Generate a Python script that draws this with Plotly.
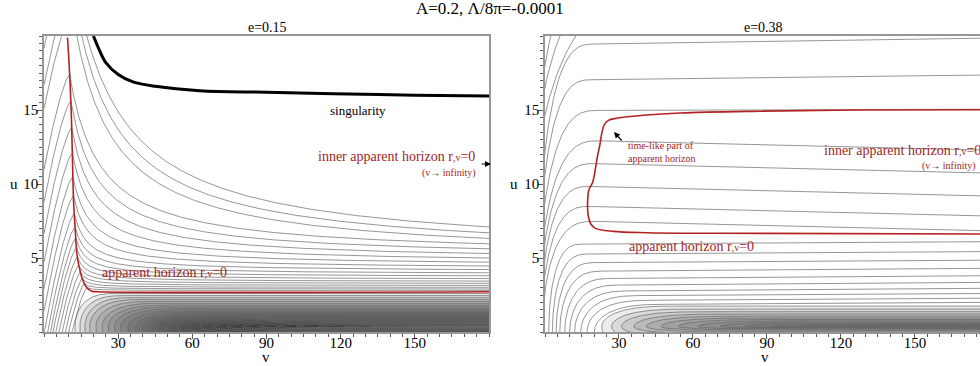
import numpy as np
import plotly.graph_objects as go

# ------------------------------------------------------------------ data
V_MAX_L = 180.0          # right end of the left panel (v)
V_MAX_R = 176.4          # visible right end of the right panel (v)
U_MAX = 20.0

# ---- left panel, e=0.15
L_hor_v = [9.5, 10.0, 10.5, 11.0, 11.4, 11.7, 12.0, 12.6, 13.3, 14.2, 15.3, 16.5, 17.6, 19.3, 22.0, 180.0]
L_hor_u = [19.9, 18.6, 17.0, 15.0, 12.5, 10.3, 8.7, 7.0, 5.3, 4.4, 3.7, 3.2, 2.95, 2.76, 2.72, 2.72]
L_sing_v = [20, 22, 25, 30, 36, 45, 63, 90, 117, 150, 180]
L_sing_u = [20, 19.2, 18.2, 17.4, 16.9, 16.6, 16.3, 16.2, 16.1, 16.0, 15.95]
# contours peaking on the apparent horizon: peak u and level at right edge
L_peak_u = [17.4, 15.6, 13.8, 12.1, 10.5, 9.2, 8.0, 7.1, 6.35, 5.7, 5.07, 4.53, 4.05, 3.62, 3.27, 3.0]
L_peak_edge_u = [5.96, 5.62, 5.3, 5.0, 4.72, 4.46, 4.22, 4.0, 3.8, 3.61, 3.44, 3.29, 3.15, 3.02, 2.91, 2.81]
# contours leaving the top edge right of the horizon
L_outer_top_v = [17.3, 15.3, 13.3]
L_outer_edge_u = [7.1, 6.7, 6.32]
L_outer_width = [24.0, 20.0, 17.0]
# contours leaving the top edge left of the horizon
L_leg_top_v = [1.0, 4.4, 7.2]
# contours below the horizon
L_low_top_u = [2.60, 2.46, 2.32, 2.19, 2.06, 1.94, 1.82, 1.71, 1.60, 1.50, 1.40, 1.31, 1.22, 1.14,
               1.06, 0.99, 0.92, 0.86, 0.80, 0.75, 0.70, 0.65, 0.61, 0.57, 0.53, 0.49, 0.45, 0.41,
               0.39, 0.375]
L_low_apex_v = [12.5, 14.5, 16.5, 18.5, 21, 23.5, 26, 28.5, 31, 34, 37, 40, 43, 46,
                50, 54, 58, 63, 68, 74, 80, 87, 94, 102, 111, 121, 132, 145, 158, 170]
L_low_bot_u = [-3] * 14 + [-1.2, -0.6, -0.3, -0.12, 0.0, 0.08, 0.14, 0.19, 0.23, 0.26, 0.28, 0.30,
                           0.32, 0.33, 0.34, 0.345]
L_low_width = [17, 18.5, 20, 21.5, 23, 24.5, 26, 27.5, 29, 30.5, 32, 33.5, 35, 36.5,
               38, 39.5, 41, 42.5, 44, 45.5, 47, 48.5, 50, 51.5, 53, 54.5, 56, 57.5, 59, 60]

# ---- right panel, e=0.38
R_hor_v = [176.4, 126, 87.6, 54.9, 41, 29, 25.7, 24.0, 23.0, 22.2, 21.2, 20.4, 19.3, 17.8,
           17.3, 17.5, 18.6, 20.5, 27.7, 41.2, 68.2, 176.4]
R_hor_u = [15.02, 15.0, 14.92, 14.8, 14.66, 14.44, 14.3, 14.0, 13.4, 12.6, 11.8, 11.0, 10.1, 9.6,
           8.9, 7.9, 7.3, 7.0, 6.8, 6.71, 6.67, 6.62]
R_rise_u = [27.5, 24.3, 22.55, 19.85, 17.36, 15.05, 12.3, 10.75, 9.2, 7.85, 6.85,
            6.1, 5.43, 4.85, 4.3, 3.8, 3.35, 2.95, 2.6, 2.28, 2.0]
R_rise_b = [-8, -8.8, -8.75, -3.7, -3.5, -3.3, -3, -2.5, -2, -1.5, -1,
            1.5, 3, 4.5, 6, 8, 10, 12, 14.5, 17, 20]
R_rise_w = [45, 45, 50, 23.7, 22.5, 25, 26, 23.5, 21, 20.5, 22,
            14, 15, 16.5, 18, 19.5, 21, 23, 25, 27, 29]
R_rise_t = [0.002, 0.002, 0.002, 0.0025, 0.002, 0.0005, -0.004, -0.004, -0.004, -0.004, -0.004,
            0.001, 0.001, 0.001, 0.0012, 0.0012, 0.0012, 0.0012, 0.001, 0.001, 0.001]
R_low_top_u = [1.75, 1.55, 1.37, 1.21, 1.07, 0.95, 0.85, 0.76, 0.68, 0.61, 0.55, 0.50, 0.45, 0.41,
               0.39, 0.375]
R_low_apex_v = [23, 27, 31, 36, 41, 47, 54, 62, 71, 81, 92, 104, 118, 134, 150, 163]
R_low_bot_u = [-1.5, -0.7, -0.35, -0.12, 0.0, 0.08, 0.14, 0.19, 0.23, 0.26, 0.28, 0.30, 0.32, 0.33,
               0.34, 0.345]
R_low_width = [31, 33, 35, 37, 39, 41, 43, 45, 47, 49, 51, 53, 55, 57, 59, 60]

TITLE = "A=0.2, \u039b/8\u03c0=-0.0001"
SUB_L = "e=0.15"
SUB_R = "e=0.38"

# ------------------------------------------------------------------ shapes
KL = 0.243
UC = 0.36
GRAY = "rgb(105,105,105)"
RED = "rgb(178,34,34)"
TXT_RED = "rgb(160,30,35)"
SHADE = "rgba(40,40,40,0.085)"
FONT = "Liberation Serif"


def bend(x):
    x = np.clip(x, 0, 1)
    return np.sqrt(1 - (1 - x) ** 3)


def collect(paths):
    xs, ys = [], []
    for v, u in paths:
        xs += list(v) + [None]
        ys += list(u) + [None]
    return xs, ys


def c_line(a, top, bot, w, vmax):
    x = np.linspace(0, 1, 80) ** 2
    v = np.r_[a + w * x, np.linspace(a + w, max(vmax, a + w + 1), 30)[1:]]
    s = bend((v - a) / w)
    up = UC + (top - UC) * s
    lo = UC - (UC - bot) * s
    return np.r_[v[::-1], v[1:]], np.r_[lo[::-1], up[1:]]


def left_paths():
    paths = []
    hv = np.array(L_hor_v[:14])[::-1]
    hu = np.array(L_hor_u[:14])[::-1]
    for P, E in zip(L_peak_u, L_peak_edge_u):
        vp = float(np.interp(P, hu, hv))
        vl = np.linspace(0, vp, 60)
        ul = P - KL * (vp - vl) ** 1.4
        d = 0.9 * (P - E) + 2.0
        q = d / (V_MAX_L - vp + d)
        A = (E - P * q) / (1 - q)
        vr = vp + (V_MAX_L - vp) * np.linspace(0, 1, 220) ** 2
        ur = A + (P - A) * d / (vr - vp + d)
        paths.append((np.r_[vl, vr[1:]], np.r_[ul, ur[1:]]))
    for vt, E, d in zip(L_outer_top_v, L_outer_edge_u, L_outer_width):
        q = d / (V_MAX_L - vt + d)
        A = (E - U_MAX * q) / (1 - q)
        vr = vt + (V_MAX_L - vt) * np.linspace(0, 1, 220) ** 2
        ur = A + (U_MAX - A) * d / (vr - vt + d)
        paths.append((vr, ur))
    vtop = L_hor_v[0]
    for vt in L_leg_top_v:
        Pv = U_MAX + KL * (vtop - vt) ** 1.4
        vl = np.linspace(0, vt + 0.3, 40)
        ul = Pv - KL * (vtop - vl) ** 1.4
        paths.append((vl, ul))
    return paths


def left_low_paths():
    return [c_line(a, top, bot, w, V_MAX_L)
            for top, a, bot, w in zip(L_low_top_u, L_low_apex_v, L_low_bot_u, L_low_width)]


def right_paths():
    paths = []
    for E, b, w, t in zip(R_rise_u, R_rise_b, R_rise_w, R_rise_t):
        x = np.linspace(0, 1, 90) ** 2
        v = np.r_[b + w * x, np.linspace(b + w, V_MAX_R, 30)[1:]]
        u = (E + t * (v - V_MAX_R)) * bend((v - b) / w)
        paths.append((v, u))
    return paths


def right_low_paths():
    return [c_line(a, top, bot, w, V_MAX_R)
            for top, a, bot, w in zip(R_low_top_u, R_low_apex_v, R_low_bot_u, R_low_width)]


fig = go.Figure()


def add_lines(paths, xa, ya):
    x, y = collect(paths)
    fig.add_trace(go.Scatter(x=x, y=y, mode="lines", line=dict(color=GRAY, width=0.7),
                             xaxis=xa, yaxis=ya, hoverinfo="skip"))


def add_shaded(paths, xa, ya):
    for v, u in paths:
        fig.add_trace(go.Scatter(x=v, y=u, mode="lines", fill="toself", fillcolor=SHADE,
                                 line=dict(color=GRAY, width=0.7), xaxis=xa, yaxis=ya,
                                 hoverinfo="skip"))


add_shaded(left_low_paths(), "x", "y")
add_lines(left_paths(), "x", "y")
fig.add_trace(go.Scatter(x=L_hor_v, y=L_hor_u, mode="lines", line=dict(color=RED, width=1.6, shape="spline"),
                         xaxis="x", yaxis="y", hoverinfo="skip"))
fig.add_trace(go.Scatter(x=L_sing_v, y=L_sing_u, mode="lines", line=dict(color="black", width=3, shape="spline"),
                         xaxis="x", yaxis="y", hoverinfo="skip"))
add_shaded(right_low_paths(), "x2", "y2")
add_lines(right_paths(), "x2", "y2")
fig.add_trace(go.Scatter(x=R_hor_v, y=R_hor_u, mode="lines", line=dict(color=RED, width=1.6, shape="spline"),
                         xaxis="x2", yaxis="y2", hoverinfo="skip"))

W, H = 980, 366
Y0, Y1 = 1 - 332 / H, 1 - 36 / H

axis_common = dict(showgrid=False, zeroline=False, showline=True, linecolor="rgb(150,150,150)",
                   linewidth=1.5, ticks="outside", ticklen=5, tickcolor="rgb(90,90,90)",
                   tickfont=dict(family=FONT, size=15, color="black"))
xa = dict(axis_common, tickvals=[30, 60, 90, 120, 150], ticklabelstandoff=-9,
          minor=dict(dtick=5, ticks="outside", ticklen=3, tickcolor="rgb(90,90,90)"))
ya = dict(axis_common, tickvals=[5, 10, 15], range=[0, U_MAX], ticklabelstandoff=-4,
          minor=dict(dtick=0.5, ticks="outside", ticklen=3, tickcolor="rgb(90,90,90)"))

fig.update_layout(
    width=W, height=H, margin=dict(l=0, r=0, t=0, b=0),
    paper_bgcolor="white", plot_bgcolor="white", showlegend=False,
    xaxis=dict(xa, domain=[44 / W, 489 / W], range=[0, V_MAX_L], anchor="y", mirror=True),
    yaxis=dict(ya, domain=[Y0, Y1], anchor="x", mirror=True),
    xaxis2=dict(xa, domain=[545 / W, 1.0], range=[0, V_MAX_R], anchor="y2", mirror=True),
    yaxis2=dict(ya, domain=[Y0, Y1], anchor="x2", mirror=False),
)


def px(x, y):
    return x / W, 1 - y / H


def text(x, y, s, size, color="black", xanchor="center"):
    X, Y = px(x, y)
    fig.add_annotation(x=X, y=Y, xref="paper", yref="paper", text=s, showarrow=False,
                       xanchor=xanchor, yanchor="middle",
                       font=dict(family=FONT, size=size, color=color))


def arrow(x0, y0, x1, y1):
    X1, Y1_ = px(x1, y1)
    fig.add_annotation(x=X1, y=Y1_, xref="paper", yref="paper", ax=x0 - x1, ay=y0 - y1,
                       axref="pixel", ayref="pixel", text="", showarrow=True,
                       arrowhead=2, arrowsize=1, arrowwidth=1.2, arrowcolor="black")


RV = "r<span style='font-size:10px'>,v</span>=0"
INF = "(v<span style='color:black'>\u2192</span> infinity)"

text(490, 8, TITLE, 17)
text(267, 28, SUB_L, 14)
text(763, 28, SUB_R, 14)
text(266, 357, "v", 15)
text(765, 357, "v", 15)
text(14, 184, "u", 15)
text(514, 184, "u", 15)

text(358, 110, "singularity", 13)
text(477, 157, "inner apparent horizon " + RV, 14, TXT_RED, "right")
text(478, 173, INF, 10, TXT_RED, "right")
arrow(480, 164, 491, 164)
text(100, 272, "apparent horizon " + RV, 14, TXT_RED, "left")

text(626, 145, "time-like part of", 10, TXT_RED, "left")
text(626, 158, "apparent horizon", 10, TXT_RED, "left")
arrow(623, 142, 614, 132)
text(822, 150, "inner apparent horizon " + RV, 14, TXT_RED, "left")
text(920, 166, INF, 10, TXT_RED, "left")
text(627, 246, "apparent horizon " + RV, 14, TXT_RED, "left")

fig.write_html("out.html", config={"displayModeBar": False})
